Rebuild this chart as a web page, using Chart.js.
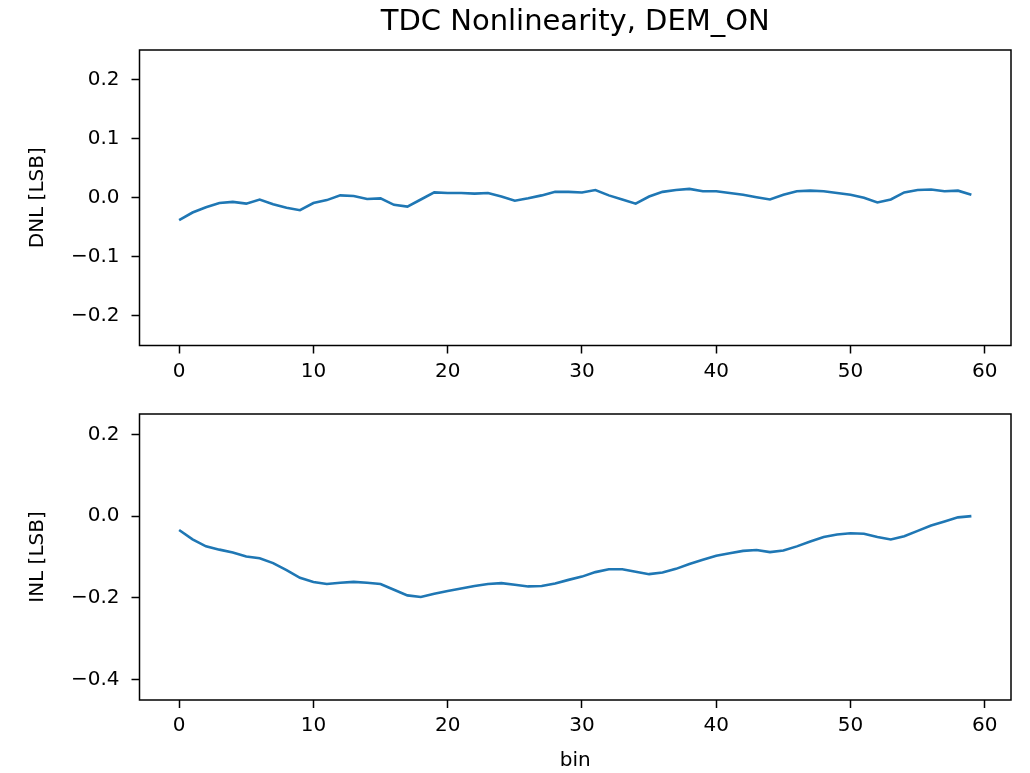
<!DOCTYPE html>
<html>
<head>
<meta charset="utf-8">
<script src="https://cdn.jsdelivr.net/npm/chart.js@4.4.1/dist/chart.umd.min.js"></script>
<style>
  html, body { margin: 0; padding: 0; background: #fff; }
  #wrap { position: relative; width: 1030px; height: 773px; overflow: hidden; }
  canvas { position: absolute; left: 0; }
  #c1 { top: 0; }
  #c2 { top: 390px; }
</style>
</head>
<body>
<div id="wrap">
  <canvas id="c1" width="1030" height="390"></canvas>
  <canvas id="c2" width="1030" height="383"></canvas>
</div>
<script>
const bins = [0,1,2,3,4,5,6,7,8,9,10,11,12,13,14,15,16,17,18,19,
  20,21,22,23,24,25,26,27,28,29,30,31,32,33,34,35,36,37,38,39,
  40,41,42,43,44,45,46,47,48,49,50,51,52,53,54,55,56,57,58,59];

const dnl = [-0.038, -0.025, -0.016, -0.009, -0.007, -0.010, -0.003, -0.011, -0.017, -0.021,
  -0.009, -0.004, 0.004, 0.003, -0.002, -0.001, -0.012, -0.015, -0.003, 0.009,
  0.008, 0.008, 0.007, 0.008, 0.002, -0.005, -0.001, 0.004, 0.010, 0.010,
  0.009, 0.013, 0.004, -0.003, -0.010, 0.002, 0.010, 0.013, 0.015, 0.011,
  0.011, 0.008, 0.005, 0.001, -0.003, 0.005, 0.011, 0.012, 0.011, 0.008,
  0.005, 0.000, -0.008, -0.003, 0.009, 0.013, 0.014, 0.011, 0.012, 0.005];

const inl = [-0.034, -0.057, -0.074, -0.082, -0.089, -0.099, -0.103, -0.115, -0.132, -0.151,
  -0.161, -0.166, -0.163, -0.161, -0.163, -0.166, -0.180, -0.194, -0.198, -0.190,
  -0.183, -0.177, -0.171, -0.166, -0.164, -0.168, -0.172, -0.171, -0.165, -0.156,
  -0.148, -0.137, -0.130, -0.130, -0.136, -0.142, -0.138, -0.129, -0.117, -0.107,
  -0.097, -0.091, -0.085, -0.083, -0.088, -0.084, -0.074, -0.062, -0.051, -0.045,
  -0.042, -0.043, -0.051, -0.057, -0.049, -0.036, -0.023, -0.013, -0.003, 0.000];

const xTicks = [0, 10, 20, 30, 40, 50, 60];
const dnlTicks = [-0.2, -0.1, 0.0, 0.1, 0.2];
const inlTicks = [-0.4, -0.2, 0.0, 0.2];

const titleText = 'TDC Nonlinearity, DEM_ON';
const FONT = 'DejaVu Sans';
const LINE = '#1f77b4';

function fmt(v) {
  const s = Math.abs(v).toFixed(1);
  return (v < -1e-9 ? '\u2212' : '') + s;
}

const frame = {
  id: 'frame',
  afterDraw(chart) {
    const a = chart.chartArea, ctx = chart.ctx;
    ctx.save();
    ctx.strokeStyle = '#000';
    ctx.lineWidth = 1.5;
    ctx.strokeRect(a.left, a.top, a.right - a.left, a.bottom - a.top);
    ctx.restore();
  }
};

function makeChart(id, values, yMin, yMax, yTicks, yLabel, opts) {
  const pts = bins.map((b, i) => ({x: b, y: values[i]}));
  return new Chart(document.getElementById(id), {
    type: 'line',
    data: { datasets: [{ data: pts, borderColor: LINE, borderWidth: 2.6, pointRadius: 0, tension: 0, fill: false }] },
    options: {
      responsive: false,
      animation: false,
      layout: { padding: { left: 0, right: 19, top: opts.padTop, bottom: 0 } },
      plugins: {
        legend: { display: false },
        tooltip: { enabled: false },
        title: opts.title ? {
          display: true, text: titleText, color: '#000', fullSize: false,
          font: { family: FONT, size: 29, weight: 'normal' },
          padding: { top: 5, bottom: 10.2 }
        } : { display: false }
      },
      scales: {
        x: {
          type: 'linear', min: -2.95, max: 61.95,
          afterBuildTicks(s) { s.ticks = xTicks.map(v => ({value: v})); },
          afterFit(s) { s.height = opts.xHeight; },
          grid: { drawOnChartArea: false, drawTicks: true, tickLength: 8, tickColor: '#000', tickWidth: 1.5 },
          border: { display: false },
          ticks: { color: '#000', font: { family: FONT, size: 20 }, padding: 6, maxRotation: 0, callback: v => String(v) },
          title: opts.xTitle ? { display: true, text: 'bin', color: '#000', font: { family: FONT, size: 20 }, padding: { top: 0, bottom: 0 } } : { display: false }
        },
        y: {
          type: 'linear', min: yMin, max: yMax,
          afterBuildTicks(s) { s.ticks = yTicks.map(v => ({value: v})); },
          afterFit(s) { s.width = 139.5; },
          grid: { drawOnChartArea: false, drawTicks: true, tickLength: 8, tickColor: '#000', tickWidth: 1.5 },
          border: { display: false },
          ticks: { color: '#000', font: { family: FONT, size: 20 }, padding: 12, callback: v => fmt(v) },
          title: { display: true, text: yLabel, color: '#000', font: { family: FONT, size: 20 }, padding: { top: 26, bottom: 0 } }
        }
      }
    },
    plugins: [frame]
  });
}

makeChart('c1', dnl, -0.25, 0.25, dnlTicks, 'DNL [LSB]', { title: true, padTop: 0, xHeight: 44.5, xTitle: false });
makeChart('c2', inl, -0.45, 0.25, inlTicks, 'INL [LSB]', { title: false, padTop: 14.3, xHeight: 73, xTitle: true });
</script>
</body>
</html>
